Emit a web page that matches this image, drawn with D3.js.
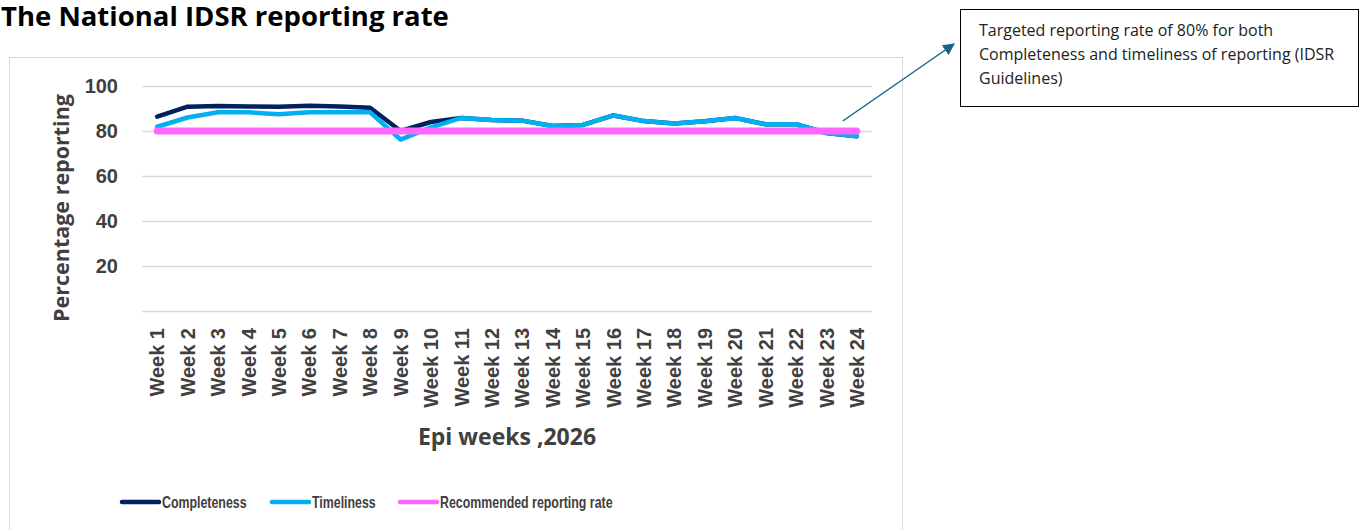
<!DOCTYPE html>
<html>
<head>
<meta charset="utf-8">
<script src="https://cdn.jsdelivr.net/npm/d3@7"></script>
<style>
  body { margin: 0; background: #fff; }
  svg { display: block; }
</style>
</head>
<body>
<div id="chart"></div>
<script>
// data
const weeks = d3.range(1, 25).map(i => "Week " + i);
const completeness = [86.4, 90.8, 91.1, 90.9, 90.8, 91.2, 90.9, 90.3, 80.0, 84.0, 85.8, 84.9, 84.6, 82.2, 82.7, 86.9, 84.4, 83.3, 84.3, 85.8, 83.0, 83.0, 79.1, 77.7];
const timeliness   = [81.9, 86.0, 88.3, 88.3, 87.4, 88.3, 88.3, 88.3, 76.2, 81.6, 85.8, 84.9, 84.6, 82.2, 82.7, 86.9, 84.4, 83.3, 84.3, 85.8, 83.0, 83.0, 79.1, 77.7];
const recommended  = weeks.map(() => 80);
const yTicks = [0, 20, 40, 60, 80, 100];

const width = 1360, height = 530;
const margin = { top: 86, right: 488, bottom: 219, left: 142 };

const svg = d3.select("#chart").append("svg")
    .attr("width", width)
    .attr("height", height);

// title
svg.append("text")
    .attr("x", 1)
    .attr("y", 26)
    .attr("font-family", "'Open Sans', sans-serif")
    .attr("font-weight", "bold")
    .attr("font-size", 27.5)
    .attr("fill", "#000")
    .text("The National IDSR reporting rate");

// chart frame
svg.append("rect")
    .attr("x", 9.5).attr("y", 57.5)
    .attr("width", 893).attr("height", 480)
    .attr("fill", "none")
    .attr("stroke", "#d9d9d9");

const x = d3.scalePoint()
    .domain(weeks)
    .range([margin.left, width - margin.right])
    .padding(0.5);

const y = d3.scaleLinear()
    .domain([0, 100])
    .range([height - margin.bottom, margin.top]);

// gridlines
svg.append("g")
    .selectAll("line")
    .data(yTicks)
    .join("line")
    .attr("x1", margin.left)
    .attr("x2", width - margin.right)
    .attr("y1", d => Math.round(y(d)) + 0.5)
    .attr("y2", d => Math.round(y(d)) + 0.5)
    .attr("stroke", "#d9d9d9")
    .attr("stroke-width", 1.3);

// y tick labels
svg.append("g")
    .selectAll("text")
    .data(yTicks.filter(d => d > 0))
    .join("text")
    .attr("x", 118)
    .attr("y", d => y(d))
    .attr("dy", "0.35em")
    .attr("text-anchor", "end")
    .attr("font-family", "'Liberation Sans', Arial, sans-serif")
    .attr("font-weight", "bold")
    .attr("font-size", 20)
    .attr("fill", "#404040")
    .text(d => d);

// y axis title
svg.append("text")
    .attr("transform", `translate(69, 208) rotate(-90)`)
    .attr("text-anchor", "middle")
    .attr("font-family", "'Open Sans', sans-serif")
    .attr("font-weight", "bold")
    .attr("font-size", 21.5)
    .attr("fill", "#404040")
    .text("Percentage reporting");

// x tick labels
svg.append("g")
    .selectAll("text")
    .data(weeks)
    .join("text")
    .attr("transform", d => `translate(${x(d)}, 328) rotate(-90)`)
    .attr("dy", "0.36em")
    .attr("text-anchor", "end")
    .attr("font-family", "'Liberation Sans', Arial, sans-serif")
    .attr("font-weight", "bold")
    .attr("font-size", 20)
    .attr("fill", "#404040")
    .text(d => d);

// x axis title
svg.append("text")
    .attr("x", 507)
    .attr("y", 445)
    .attr("text-anchor", "middle")
    .attr("font-family", "'Open Sans', sans-serif")
    .attr("font-weight", "bold")
    .attr("font-size", 23)
    .attr("fill", "#404040")
    .text("Epi weeks ,2026");

// series
const series = [
    { label: "Completeness", color: "#002060", values: completeness, width: 4.5 },
    { label: "Timeliness", color: "#00B0F0", values: timeliness, width: 4.5 },
    { label: "Recommended reporting rate", color: "#FF66FF", values: recommended, width: 7 }
];

const line = d3.line()
    .x((d, i) => x(weeks[i]))
    .y(d => y(d));

series.forEach(s => {
    svg.append("path")
        .datum(s.values)
        .attr("fill", "none")
        .attr("stroke", s.color)
        .attr("stroke-width", s.width)
        .attr("stroke-linejoin", "round")
        .attr("stroke-linecap", "round")
        .attr("d", line);
});

// legend (narrow bold text like the original)
const legendX = [122, 272, 400];
series.forEach((s, i) => {
    const g = svg.append("g").attr("transform", `translate(${legendX[i]}, 502)`);
    g.append("line")
        .attr("x1", 0).attr("x2", 37)
        .attr("stroke", s.color)
        .attr("stroke-width", 4.5)
        .attr("stroke-linecap", "round");
    g.append("text")
        .attr("transform", "translate(40,0) scale(0.75,1)")
        .attr("dy", "0.35em")
        .attr("font-family", "'Liberation Sans', Arial, sans-serif")
        .attr("font-weight", "bold")
        .attr("font-size", 16.5)
        .attr("fill", "#404040")
        .text(s.label);
});

// annotation box
svg.append("rect")
    .attr("x", 960.5).attr("y", 9.5)
    .attr("width", 398).attr("height", 97)
    .attr("fill", "#fff")
    .attr("stroke", "#000")
    .attr("stroke-width", 1);

const noteLines = [
    "Targeted reporting rate of 80% for both",
    "Completeness and timeliness of reporting (IDSR",
    "Guidelines)"
];
svg.append("g")
    .selectAll("text")
    .data(noteLines)
    .join("text")
    .attr("x", 979)
    .attr("y", (d, i) => 36 + i * 24)
    .attr("font-family", "'Open Sans', sans-serif")
    .attr("font-size", 16)
    .attr("fill", "#222")
    .text(d => d);

// arrow
svg.append("defs").append("marker")
    .attr("id", "arrow")
    .attr("viewBox", "0 0 10 10")
    .attr("refX", 9).attr("refY", 5)
    .attr("markerWidth", 8).attr("markerHeight", 8)
    .attr("orient", "auto")
    .append("path")
    .attr("d", "M0,0 L10,5 L0,10 Z")
    .attr("fill", "#1A6585");

svg.append("line")
    .attr("x1", x("Week 24") - 14).attr("y1", 121)
    .attr("x2", 954).attr("y2", 44)
    .attr("stroke", "#1A6585")
    .attr("stroke-width", 1.5)
    .attr("marker-end", "url(#arrow)");
</script>
</body>
</html>
